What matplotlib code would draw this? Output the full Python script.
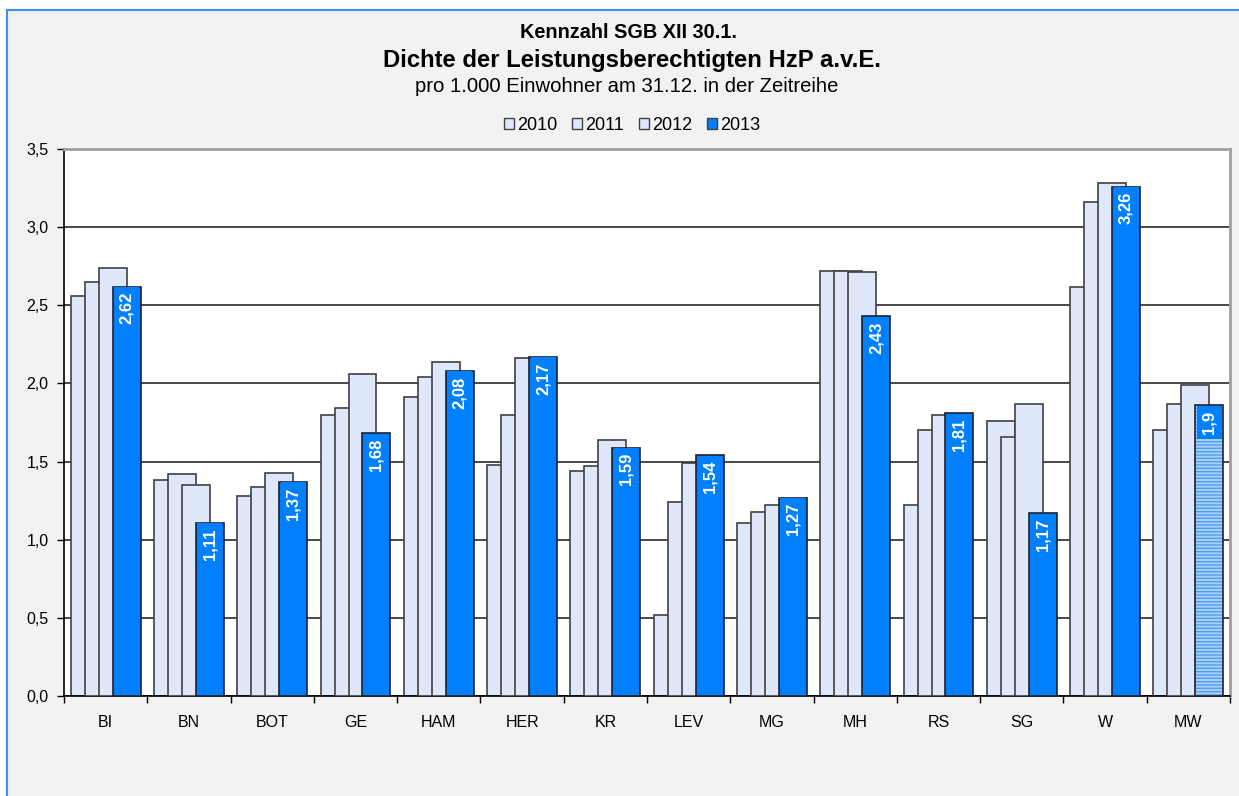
import numpy as np
import matplotlib.pyplot as plt
from matplotlib.patches import Rectangle
from matplotlib.ticker import FuncFormatter, FixedLocator

plt.rcParams['font.family'] = ['Liberation Sans', 'DejaVu Sans']

# ---- data ----
regions = ["BI", "BN", "BOT", "GE", "HAM", "HER", "KR", "LEV",
           "MG", "MH", "RS", "SG", "W", "MW"]
years = ["2010", "2011", "2012", "2013"]

v2010 = [2.56, 1.38, 1.28, 1.80, 1.91, 1.48, 1.44, 0.52, 1.11, 2.72, 1.22, 1.76, 2.62, 1.70]
v2011 = [2.65, 1.42, 1.34, 1.84, 2.04, 1.80, 1.47, 1.24, 1.18, 2.72, 1.70, 1.66, 3.16, 1.87]
v2012 = [2.74, 1.35, 1.43, 2.06, 2.14, 2.16, 1.64, 1.49, 1.22, 2.71, 1.80, 1.87, 3.28, 1.99]
v2013 = [2.62, 1.11, 1.37, 1.68, 2.08, 2.17, 1.59, 1.54, 1.27, 2.43, 1.81, 1.17, 3.26, 1.86]
# the mean (MW) is shown with one decimal only
label_decimals = [2] * 13 + [1]

light = "#dfe8fb"
blue = "#0080ff"
edge = "#404040"

fig = plt.figure(figsize=(12.39, 7.96), dpi=100)
fig.patch.set_facecolor("white")

# chart area frame
W, H = 1239, 796
fig.patches.append(Rectangle((7 / W, -0.1), 1.1, (H - 10) / H + 0.1,
                             transform=fig.transFigure, facecolor="#f2f2f2",
                             edgecolor="#3d8ef0", linewidth=1.5, zorder=-5))

ax = fig.add_axes([64 / W, 100 / H, (1230 - 64) / W, (696 - 149) / H])
ax.set_facecolor("white")

x = np.arange(len(regions))
step = 0.168
width = 0.336
start = -0.42

series = [v2010, v2011, v2012]
for i, vals in enumerate(series):
    ax.bar(x + start + i * step, vals, width=width, align="edge",
           color=light, edgecolor=edge, linewidth=1.2, zorder=2 + i)

# 2013 bars, the last one (MW) striped
pos13 = x + start + 3 * step
ax.bar(pos13[:-1], v2013[:-1], width=width, align="edge",
       color=blue, edgecolor="#202030", linewidth=1.2, zorder=6)
ax.bar(pos13[-1], v2013[-1], width=width, align="edge",
       color="#a9d0f8", edgecolor="#4f9ef2", linewidth=0, hatch="-----", zorder=6)
ax.bar(pos13[-1], v2013[-1], width=width, align="edge",
       fill=False, edgecolor="#202030", linewidth=1.2, zorder=7)

for xp, val, dec in zip(pos13 + width / 2, v2013, label_decimals):
    txt = f"{val:.{dec}f}".replace(".", ",")
    ax.annotate(txt, (xp, val), xytext=(0, -4), textcoords="offset points",
                rotation=90, ha="center", va="top", color="white",
                fontsize=12, fontweight="bold", zorder=8,
                bbox=dict(boxstyle="square,pad=0.3", facecolor=blue,
                          edgecolor="none"))

# ---- axes ----
ax.set_xlim(-0.5, len(regions) - 0.5)
ax.set_ylim(0, 3.5)
ax.set_yticks(np.arange(0, 3.51, 0.5))
ax.yaxis.set_major_formatter(FuncFormatter(lambda v, p: f"{v:.1f}".replace(".", ",")))
ax.grid(axis="y", color="#3a3a3a", linewidth=1.3, zorder=1)
ax.set_axisbelow(True)

ax.set_xticks(x)
ax.set_xticklabels(regions)
ax.xaxis.set_minor_locator(FixedLocator(np.arange(-0.5, len(regions), 1.0)))
ax.tick_params(axis="x", which="major", length=0, pad=14, labelsize=11.5)
ax.tick_params(axis="x", which="minor", length=5, width=1, direction="out")
ax.tick_params(axis="y", length=5, width=1, direction="out", labelsize=11.5, pad=6)

for s in ["left", "bottom"]:
    ax.spines[s].set_color("black")
    ax.spines[s].set_linewidth(1.2)
for s in ["top", "right"]:
    ax.spines[s].set_color("#a0a0a0")
    ax.spines[s].set_linewidth(2)

# ---- titles ----
fig.text(629 / W, 1 - 33 / H, "Kennzahl SGB XII 30.1.", ha="center", va="center",
         fontsize=14.3, fontweight="bold")
fig.text(632 / W, 1 - 61 / H, "Dichte der Leistungsberechtigten HzP a.v.E.",
         ha="center", va="center", fontsize=17.2, fontweight="bold")
fig.text(627 / W, 1 - 87 / H, "pro 1.000 Einwohner am 31.12. in der Zeitreihe",
         ha="center", va="center", fontsize=14.6)

# ---- legend ----
handles = [Rectangle((0, 0), 1, 1, facecolor=c, edgecolor=edge, linewidth=1)
           for c in [light, light, light, blue]]
fig.legend(handles, years, loc="center", bbox_to_anchor=(632 / W, 1 - 125 / H),
           ncol=4, frameon=False, fontsize=13, handlelength=0.55, handleheight=0.55,
           handletextpad=0.15, columnspacing=0.85)

fig.savefig("out.png", dpi=100, facecolor=fig.get_facecolor())
